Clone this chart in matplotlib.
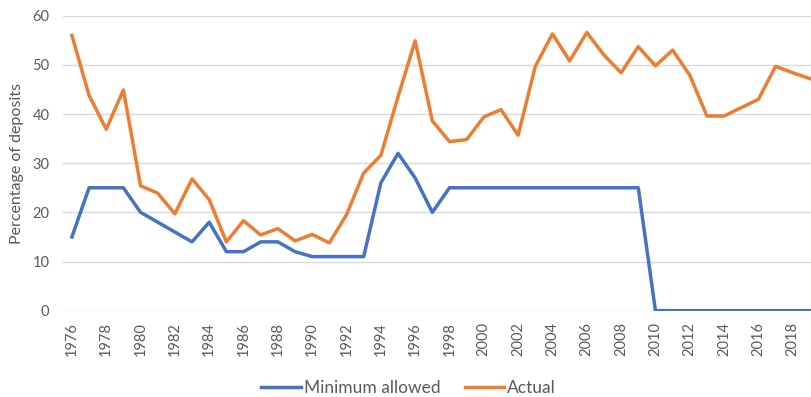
import numpy as np
import matplotlib
matplotlib.use("Agg")
import matplotlib.pyplot as plt

plt.rcParams['font.family'] = ['Lato', 'DejaVu Sans']

years = list(range(1976, 2020))

# minimum reserve ratio allowed (%)
minimum_allowed = [15, 25, 25, 25, 20, 18, 16, 14, 18, 12,
                   12, 14, 14, 12, 11, 11, 11, 11, 26, 32,
                   27, 20, 25, 25, 25, 25, 25, 25, 25, 25,
                   25, 25, 25, 25, 0, 0, 0, 0, 0, 0,
                   0, 0, 0, 0]

# actual ratio (%)
actual = [56.0, 43.8, 36.9, 44.9, 25.4, 23.9, 19.7, 26.8, 22.6, 14.0,
          18.3, 15.4, 16.7, 14.2, 15.5, 13.8, 19.5, 28.0, 31.6, 43.5,
          54.9, 38.6, 34.4, 34.8, 39.4, 40.9, 35.7, 49.7, 56.3, 50.8,
          56.6, 52.0, 48.4, 53.7, 49.8, 53.0, 47.9, 39.6, 39.6, 41.3,
          43.0, 49.7, 48.4, 47.2]

tick_labels = [str(y) for y in years[::2]]

text_col = '#595959'
x = np.arange(len(years))

fig = plt.figure(figsize=(8.12, 3.97), dpi=100)
ax = fig.add_axes([0.078, 0.2174, 0.930, 0.743])

ax.plot(x, minimum_allowed, color='#4472C4', lw=2.5, label='Minimum allowed',
        solid_joinstyle='round', zorder=3)
ax.plot(x, actual, color='#ED7D31', lw=2.5, label='Actual',
        solid_joinstyle='round', zorder=3)

ax.set_xlim(-0.5, len(years) - 0.5)
ax.set_ylim(0, 60)
ax.set_yticks(range(0, 61, 10))
ax.set_xticks(x[::2])
ax.set_xticklabels(tick_labels, rotation=90)

ax.grid(axis='y', color='#D9D9D9', lw=1)
ax.set_axisbelow(True)
for s in ax.spines.values():
    s.set_visible(False)
ax.tick_params(length=0, colors=text_col, labelsize=10.5)
ax.tick_params(axis='x', pad=8)
ax.tick_params(axis='y', pad=10)

ax.set_ylabel('Percentage of deposits', color=text_col, fontsize=11.5, labelpad=6)

fig.legend(loc='center', bbox_to_anchor=(0.503, 0.023), ncol=2, frameon=False,
           fontsize=12.5, handlelength=2.3, columnspacing=1.4, handletextpad=0.17,
           labelcolor=text_col)

fig.savefig('out.png', dpi=100)
